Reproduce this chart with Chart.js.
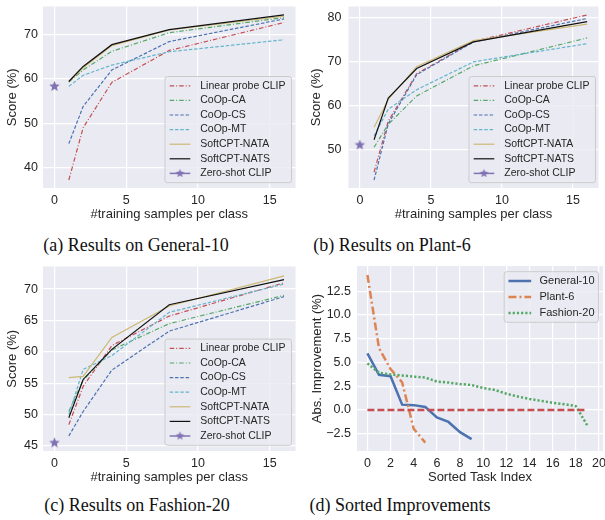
<!DOCTYPE html>
<html>
<head>
<meta charset="utf-8">
<script src="https://cdn.jsdelivr.net/npm/chart.js@4.4.0/dist/chart.umd.min.js"></script>
<style>
  body { margin: 0; background: #fff; width: 605px; height: 520px; position: relative; overflow: hidden; }
  canvas { position: absolute; }
  .cap { position: absolute; font-family: "Liberation Serif", "Times New Roman", serif; font-size: 18px; color: #111;
         white-space: nowrap; transform: translate(-50%, -50%); }
</style>
</head>
<body>
<canvas id="chartA" width="302" height="226" style="left:0;top:0"></canvas>
<canvas id="chartB" width="303" height="226" style="left:302px;top:0"></canvas>
<canvas id="chartC" width="302" height="226" style="left:0;top:260px"></canvas>
<canvas id="chartD" width="303" height="226" style="left:302px;top:260px"></canvas>
<div class="cap" style="left:136px;top:245px">(a) Results on General-10</div>
<div class="cap" style="left:392px;top:245px">(b) Results on Plant-6</div>
<div class="cap" style="left:137px;top:505px">(c) Results on Fashion-20</div>
<div class="cap" style="left:400px;top:505px">(d) Sorted Improvements</div>
<script>
// few-shot curves
const shots = [1, 2, 4, 8, 16];
const methods = ['Linear probe CLIP', 'CoOp-CA', 'CoOp-CS', 'CoOp-MT', 'SoftCPT-NATA', 'SoftCPT-NATS'];

const genLinear = [37.2, 49.0, 59.2, 66.4, 72.7];
const genCA     = [59.3, 62.0, 66.2, 70.4, 73.8];
const genCS     = [45.4, 53.8, 62.0, 68.4, 73.5];
const genMT     = [58.3, 60.8, 63.1, 66.1, 68.8];
const genNATA   = [59.3, 62.5, 67.5, 71.0, 74.1];
const genNATS   = [59.4, 62.8, 67.7, 71.1, 74.4];
const genZero   = 58.3;

const plantLinear = [45.0, 56.5, 67.2, 74.5, 80.5];
const plantCA     = [50.6, 55.8, 62.2, 69.0, 75.3];
const plantCS     = [43.2, 55.9, 67.0, 74.4, 79.7];
const plantMT     = [53.2, 59.2, 63.6, 69.9, 74.0];
const plantNATA   = [55.1, 61.4, 68.8, 74.7, 78.4];
const plantNATS   = [52.3, 61.7, 68.4, 74.4, 79.0];
const plantZero   = 51.1;

const fashLinear = [48.4, 54.5, 61.0, 65.7, 71.0];
const fashCA     = [50.5, 55.5, 60.3, 64.5, 69.0];
const fashCS     = [46.6, 50.5, 57.1, 63.3, 68.8];
const fashMT     = [50.0, 57.2, 59.4, 66.3, 70.8];
const fashNATA   = [55.9, 56.1, 62.3, 67.3, 72.1];
const fashNATS   = [49.5, 55.6, 60.4, 67.5, 71.5];
const fashZero   = 45.5;

// sorted improvements
const idxGeneral = [0, 1, 2, 3, 4, 5, 6, 7, 8, 9];
const impGeneral = [5.95, 3.7, 3.55, 0.55, 0.5, 0.3, -0.8, -1.27, -2.35, -3.08];
const idxPlant = [0, 1, 2, 3, 4, 5];
const impPlant = [14.2, 6.5, 4.3, 2.9, -2.0, -3.45];
const idxFashion = [0, 1, 2, 3, 4, 5, 6, 7, 8, 9, 10, 11, 12, 13, 14, 15, 16, 17, 18, 19];
const impFashion = [4.9, 3.9, 3.72, 3.62, 3.5, 3.4, 2.98, 2.88, 2.72, 2.62, 2.3, 2.1, 1.7, 1.4, 1.15, 0.95, 0.75, 0.6, 0.4, -1.65];
const zeroX = [0, 19];
const zeroY = [0, 0];

// ticks
const xTicksShots = [0, 5, 10, 15];
const yTicksGeneral = [40, 50, 60, 70];
const yTicksPlant = [50, 60, 70, 80];
const yTicksFashion = [45, 50, 55, 60, 65, 70];
const xTicksTask = [0, 2, 4, 6, 8, 10, 12, 14, 16, 18, 20];
const yTicksImp = [-2.5, 0, 2.5, 5, 7.5, 10, 12.5];

Chart.defaults.font.family = '"Liberation Sans", Arial, sans-serif';
Chart.defaults.color = '#262626';

const pts = (xs, ys) => xs.map((x, i) => ({ x: x, y: ys[i] }));

function starImage(r, color) {
  const c = document.createElement('canvas');
  const s = Math.ceil(r * 2 + 2);
  c.width = s; c.height = s;
  const g = c.getContext('2d');
  g.fillStyle = color;
  g.beginPath();
  for (let k = 0; k < 10; k++) {
    const rad = k % 2 ? r * 0.45 : r;
    const ang = -Math.PI / 2 + k * Math.PI / 5;
    g.lineTo(s / 2 + rad * Math.cos(ang), s / 2 + rad * Math.sin(ang));
  }
  g.closePath();
  g.fill();
  return c;
}
const bigStar = starImage(5.5, '#8172B2');
const smallStar = starImage(4.5, '#8172B2');

const styles = [
  { color: '#C44E52', dash: [4.5, 2, 1, 2] },
  { color: '#55A868', dash: [4.5, 2, 1, 2] },
  { color: '#4C72B0', dash: [3.5, 1.8] },
  { color: '#64B5CD', dash: [3.5, 1.8] },
  { color: '#CCB974', dash: [] },
  { color: '#111111', dash: [] }
];

function curveSets(series, zero) {
  const sets = series.map((ys, i) => ({
    label: methods[i], data: pts(shots, ys),
    borderColor: styles[i].color, borderDash: styles[i].dash, borderWidth: 1.2
  }));
  sets.push({
    label: 'Zero-shot CLIP', data: [{ x: 0, y: zero }], showLine: false,
    borderColor: '#8172B2', backgroundColor: '#8172B2', borderWidth: 1.5,
    pointStyle: bigStar, pointRadius: 5, legendStar: smallStar
  });
  return sets;
}

const panelBg = {
  id: 'panelBg',
  beforeDraw(chart) {
    const { ctx, chartArea: a } = chart;
    ctx.save();
    ctx.fillStyle = '#EAEAF2';
    ctx.fillRect(a.left, a.top, a.right - a.left, a.bottom - a.top);
    ctx.restore();
  }
};

const insideLegend = {
  id: 'insideLegend',
  afterDatasetsDraw(chart, args, o) {
    const { ctx, chartArea: a } = chart;
    const items = chart.data.datasets.filter(d => !d.noLegend);
    ctx.save();
    ctx.font = o.fontSize + 'px "Liberation Sans", Arial, sans-serif';
    const tw = Math.max(...items.map(d => ctx.measureText(d.label).width));
    const w = o.lineX + o.lineLen + o.gap + tw + o.padR;
    const h = items.length * o.rowH + 2 * o.padV;
    const x = a.right - o.mx - w;
    const y = o.atTop ? a.top + o.my : a.bottom - o.my - h;
    ctx.beginPath();
    ctx.roundRect(x, y, w, h, 2.5);
    ctx.fillStyle = 'rgba(234,234,242,0.8)';
    ctx.fill();
    ctx.strokeStyle = '#cccccc';
    ctx.lineWidth = 1;
    ctx.stroke();
    items.forEach((d, i) => {
      const cy = y + o.padV + o.rowH * (i + 0.5);
      const lx = x + o.lineX;
      ctx.beginPath();
      ctx.setLineDash(d.borderDash || []);
      ctx.strokeStyle = d.borderColor;
      ctx.lineWidth = d.borderWidth;
      ctx.moveTo(lx, cy);
      ctx.lineTo(lx + o.lineLen, cy);
      ctx.stroke();
      ctx.setLineDash([]);
      if (d.legendStar) {
        ctx.drawImage(d.legendStar, lx + o.lineLen / 2 - d.legendStar.width / 2, cy - d.legendStar.height / 2);
      }
      ctx.fillStyle = '#262626';
      ctx.textBaseline = 'middle';
      ctx.textAlign = 'left';
      ctx.fillText(d.label, lx + o.lineLen + o.gap, cy);
    });
    ctx.restore();
  }
};

function makePanel(id, datasets, p) {
  datasets.forEach((d, i) => {
    d.order = datasets.length - i;
    if (d.pointRadius === undefined) d.pointRadius = 0;
    d.fill = false;
    d.tension = 0;
  });
  new Chart(document.getElementById(id), {
    type: 'line',
    data: { datasets: datasets },
    plugins: [panelBg, insideLegend],
    options: {
      responsive: false,
      animation: false,
      layout: { padding: { top: p.padTop, right: p.padRight, left: 0, bottom: 0 } },
      plugins: {
        legend: { display: false },
        tooltip: { enabled: false },
        insideLegend: p.legend
      },
      scales: {
        x: {
          type: 'linear', min: p.xMin, max: p.xMax,
          afterBuildTicks: s => { s.ticks = p.xTicks.map(v => ({ value: v })); },
          afterFit: s => { s.height = p.xh; s.paddingLeft = 0; s.paddingRight = 0; },
          grid: { color: '#ffffff', lineWidth: 1.2, drawTicks: false },
          border: { display: false },
          ticks: { font: { size: 12.5 }, padding: p.xPad, maxRotation: 0, autoSkip: false },
          title: { display: true, text: p.xTitle, font: { size: 13 }, padding: { top: 0, bottom: p.xTitlePad } }
        },
        y: {
          type: 'linear', min: p.yMin, max: p.yMax,
          afterBuildTicks: s => { s.ticks = p.yTicks.map(v => ({ value: v })); },
          afterFit: s => { s.width = p.yw; s.paddingTop = 0; s.paddingBottom = 0; },
          grid: { color: '#ffffff', lineWidth: 1.2, drawTicks: false },
          border: { display: false },
          ticks: { font: { size: 12.5 }, padding: p.yPad, autoSkip: false, callback: p.yFmt || (v => String(v)) },
          title: { display: true, text: p.yTitle, font: { size: 13 }, padding: { top: p.yTitlePad, bottom: 0 } }
        }
      }
    }
  });
}

const curveLegend = { fontSize: 10.5, rowH: 14.6, padV: 2, lineX: 4.7, lineLen: 20.6, gap: 10, padR: 6, mx: 4, my: 5.3, atTop: false };

makePanel('chartA', curveSets([genLinear, genCA, genCS, genMT, genNATA, genNATS], genZero), {
  padTop: 4, padRight: 4, yw: 43, xh: 38, xMin: -0.8, xMax: 16.8, yMin: 35.4, yMax: 76.3,
  xTicks: xTicksShots, yTicks: yTicksGeneral, xPad: 5, yPad: 5, xTitlePad: 4, yTitlePad: 4.5,
  xTitle: '#training samples per class', yTitle: 'Score (%)', legend: curveLegend
});

makePanel('chartB', curveSets([plantLinear, plantCA, plantCS, plantMT, plantNATA, plantNATS], plantZero), {
  padTop: 4, padRight: 0, yw: 46.5, xh: 38, xMin: -0.8, xMax: 16.8, yMin: 41.4, yMax: 82.4,
  xTicks: xTicksShots, yTicks: yTicksPlant, xPad: 5, yPad: 7, xTitlePad: 3.5, yTitlePad: 7,
  xTitle: '#training samples per class', yTitle: 'Score (%)', legend: Object.assign({}, curveLegend, { mx: 3 })
});

makePanel('chartC', curveSets([fashLinear, fashCA, fashCS, fashMT, fashNATA, fashNATS], fashZero), {
  padTop: 6, padRight: 4, yw: 43, xh: 35, xMin: -0.8, xMax: 16.8, yMin: 44.2, yMax: 73.6,
  xTicks: xTicksShots, yTicks: yTicksFashion, xPad: 5, yPad: 5, xTitlePad: 1, yTitlePad: 4.5,
  xTitle: '#training samples per class', yTitle: 'Score (%)', legend: Object.assign({}, curveLegend, { my: 5.7 })
});

makePanel('chartD', [
  { label: 'General-10', data: pts(idxGeneral, impGeneral), borderColor: '#4C72B0', borderWidth: 2.5, borderDash: [] },
  { label: 'Plant-6', data: pts(idxPlant, impPlant), borderColor: '#DD8452', borderWidth: 2.5, borderDash: [8, 3, 2, 3] },
  { label: 'Fashion-20', data: pts(idxFashion, impFashion), borderColor: '#55A868', borderWidth: 2.5, borderDash: [2.2, 2] },
  { label: 'zero', data: pts(zeroX, zeroY), borderColor: '#C44E52', borderWidth: 2.5, borderDash: [7, 3], noLegend: true }
], {
  padTop: 6, padRight: 2, yw: 55, xh: 35, xMin: -0.9, xMax: 20.35, yMin: -4.33, yMax: 15.15,
  xTicks: xTicksTask, yTicks: yTicksImp, xPad: 5, yPad: 6, xTitlePad: 1, yTitlePad: 7.5,
  yFmt: v => (v < 0 ? '\u2212' + Math.abs(v).toFixed(1) : v.toFixed(1)),
  xTitle: 'Sorted Task Index', yTitle: 'Abs. Improvement (%)',
  legend: { fontSize: 11, rowH: 16, padV: 1.3, lineX: 4.3, lineLen: 22.7, gap: 8.3, padR: 4, mx: 4.5, my: 5.7, atTop: true }
});
</script>
</body>
</html>
